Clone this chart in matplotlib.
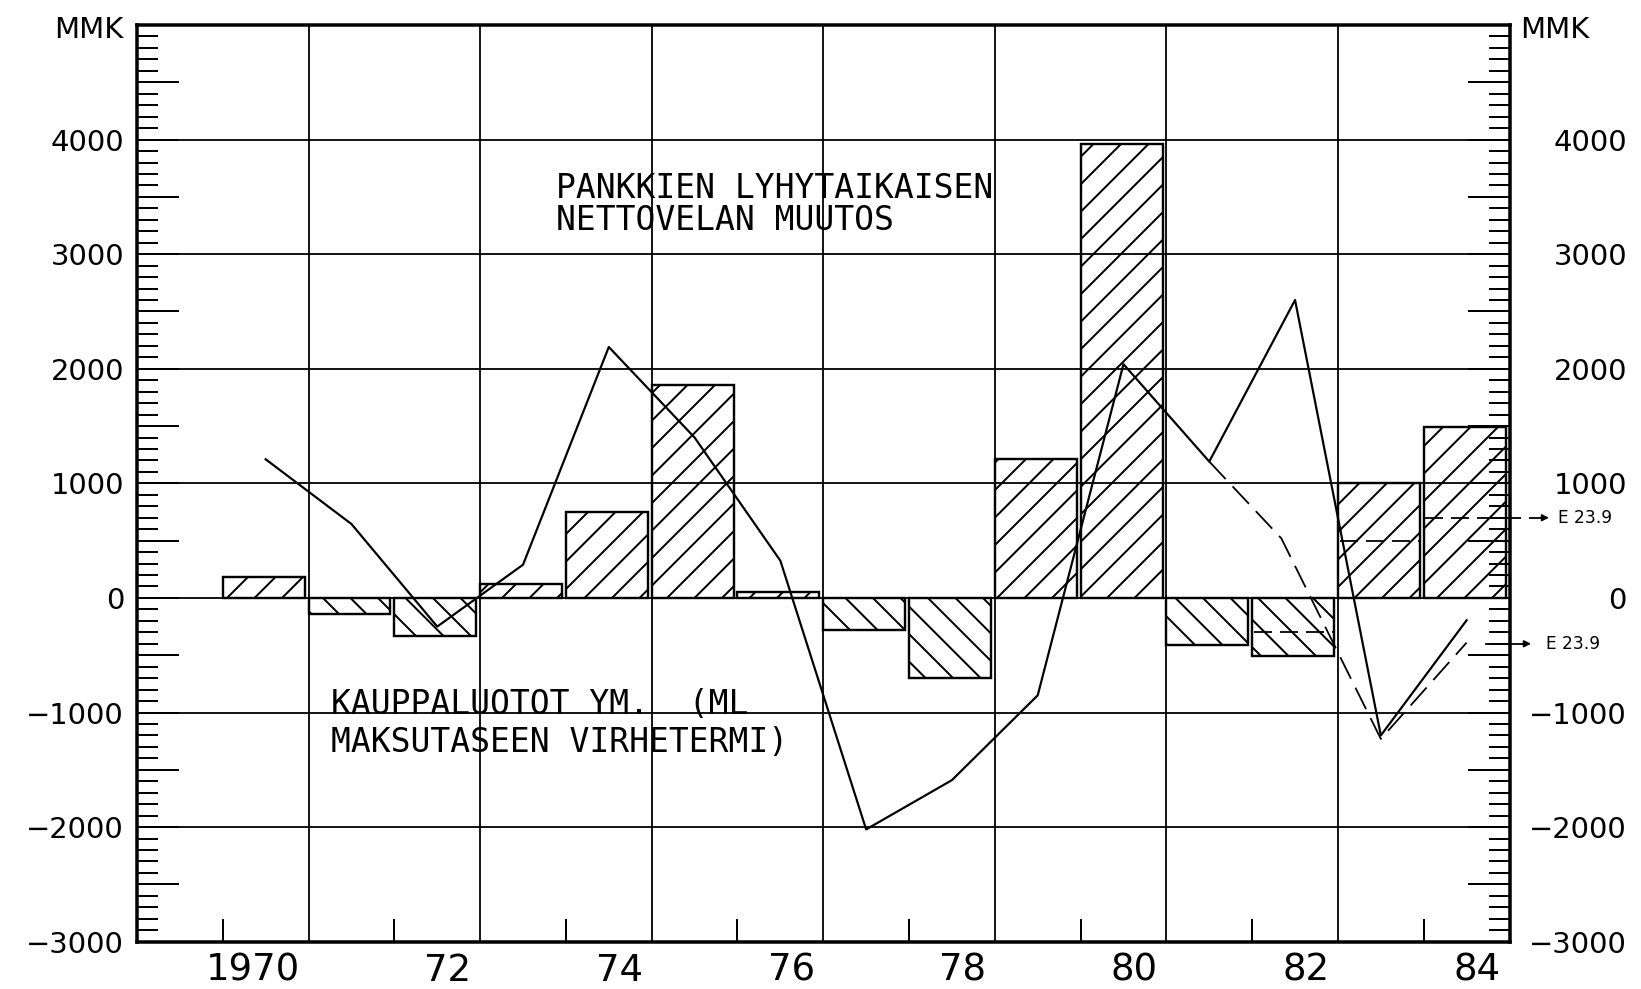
import matplotlib
matplotlib.use("Agg")
import matplotlib.pyplot as plt
from matplotlib.ticker import MultipleLocator

# ---------------- data ----------------
years = list(range(1970, 1985))
bank_net_debt_change = [185, -140, -330, 125, 750, 1860, 50, -280, -700,
                        1210, 3960, -410, -505, 1000, 1490]

trade_credit_x = [1970.5, 1971.5, 1972.5, 1973.5, 1974.5, 1975.5, 1976.5,
                  1977.5, 1978.5, 1979.5, 1980.5, 1981.5, 1982.5, 1983.5, 1984.5]
trade_credit = [1210, 645, -250, 290, 2190, 1400, 325, -2020, -1590, -850,
                2040, 1190, 2600, -1200, -195]

revised_x = [1981.5, 1982.34, 1983.5, 1984.5]
revised_values = [1190, 520, -1230, -390]

estimate_years = [1982, 1983, 1984]
estimate_values = [-300, 500, 700]
estimate_label = "E 23.9"
arrow_values = [700, -400]

y_ticks = list(range(-3000, 5001, 500))
y_tick_labels = ["−3000", "", "−2000", "", "−1000", "", "0", "", "1000", "",
                 "2000", "", "3000", "", "4000", "", ""]
x_tick_years = [1970, 1972, 1974, 1976, 1978, 1980, 1982, 1984]
x_tick_labels = ["1970", "72", "74", "76", "78", "80", "82", "84"]
grid_years = [1971, 1973, 1975, 1977, 1979, 1981, 1983]
grid_values = [-2000, -1000, 0, 1000, 2000, 3000, 4000]

# ---------------- style ----------------
DPI = 165
W, H = 1641, 989


def pt(px):
    return px * 72.0 / DPI


plt.rcParams["font.family"] = ["DejaVu Sans"]
plt.rcParams["hatch.linewidth"] = pt(2.0)
plt.rcParams["hatch.color"] = "black"
plt.rcParams["lines.scale_dashes"] = False

fig = plt.figure(figsize=(W / DPI, H / DPI), dpi=DPI)
fig.patch.set_facecolor("white")
ax = fig.add_axes([137 / W, 1 - 941.7 / H, 1372.5 / W, 916.7 / H])
ax.set_xlim(1969, 1985)
ax.set_ylim(-3000, 5000)
ax.set_facecolor("white")

# grid
for gv in grid_values:
    ax.axhline(gv, color="black", lw=pt(1.8), zorder=1)
for gy in grid_years:
    ax.axvline(gy, color="black", lw=pt(1.8), zorder=1)

# bars
bars = ax.bar(years, bank_net_debt_change, width=0.955, align="edge",
              facecolor="none", edgecolor="black", linewidth=pt(2.4), zorder=2)
for b, v in zip(bars, bank_net_debt_change):
    b.set_hatch("//" if v > 0 else "\\\\")

# lines
ax.plot(trade_credit_x, trade_credit, color="black", lw=pt(2.2), zorder=3)
ax.plot(revised_x, revised_values, color="black", lw=pt(1.8),
        ls=(0, (pt(24), pt(10))), zorder=3)

# estimate dashes inside bars
for ey, ev in zip(estimate_years, estimate_values):
    x1 = ey + 0.955 if ey != estimate_years[-1] else 1985.40
    ax.plot([ey + 0.02, x1], [ev, ev], color="black", lw=pt(1.8),
            ls=(0, (pt(18), pt(8))), zorder=3, clip_on=False)

# arrows to estimate labels
ax.annotate("", xy=(1985.46, arrow_values[0]), xytext=(1985.36, arrow_values[0]),
            arrowprops=dict(arrowstyle="-|>", color="black", lw=pt(1.6),
                            mutation_scale=pt(14), shrinkA=0, shrinkB=0),
            annotation_clip=False)
ax.plot([1984.73, 1985.18], [arrow_values[1], arrow_values[1]], color="black",
        lw=pt(1.8), clip_on=False, zorder=3)
ax.annotate("", xy=(1985.25, arrow_values[1]), xytext=(1985.15, arrow_values[1]),
            arrowprops=dict(arrowstyle="-|>", color="black", lw=pt(1.6),
                            mutation_scale=pt(14), shrinkA=0, shrinkB=0),
            annotation_clip=False)
ax.text(1985.57, arrow_values[0], estimate_label, fontsize=pt(17), va="center",
        ha="left", color="black")
ax.text(1985.43, arrow_values[1], estimate_label, fontsize=pt(17), va="center",
        ha="left", color="black")

# annotations
mono = dict(family="DejaVu Sans Mono", fontsize=pt(33), color="black",
            va="center", ha="left", zorder=4)
ax.text(1973.88, 3570, "PANKKIEN LYHYTAIKAISEN", **mono)
ax.text(1973.88, 3290, "NETTOVELAN MUUTOS", **mono)
ax.text(1971.26, -930, "KAUPPALUOTOT YM.  (ML", **mono)
ax.text(1971.26, -1260, "MAKSUTASEEN VIRHETERMI)", **mono)

# unit labels
ax.text(-0.0102, 0.9858, "MMK", transform=ax.transAxes, ha="right",
        va="baseline", fontsize=pt(29))
ax.text(1.0077, 0.9858, "MMK", transform=ax.transAxes, ha="left",
        va="baseline", fontsize=pt(29))

# spines
for s in ax.spines.values():
    s.set_linewidth(pt(3.5))

# left y axis
ax.set_yticks(y_ticks, y_tick_labels)
ax.yaxis.set_minor_locator(MultipleLocator(100))
ax.tick_params(axis="y", which="major", direction="in", length=pt(42),
               width=pt(2), pad=pt(13), labelsize=pt(29), right=False)
ax.tick_params(axis="y", which="minor", direction="in", length=pt(21),
               width=pt(2), right=False)

# x axis
ax.set_xticks(x_tick_years, [""] * len(x_tick_years))
ax.tick_params(axis="x", which="major", direction="in", length=pt(23),
               width=pt(2), top=False)
ax.set_xticks([y + 0.9 for y in x_tick_years], x_tick_labels, minor=True)
ax.tick_params(axis="x", which="minor", length=0, pad=pt(10),
               labelsize=pt(37), top=False)
for lbl in ax.get_xticklabels(minor=True):
    lbl.set_horizontalalignment("right")

# right y axis
ax2 = ax.twinx()
ax2.set_ylim(-3000, 5000)
ax2.set_yticks(y_ticks, y_tick_labels)
ax2.yaxis.set_minor_locator(MultipleLocator(100))
ax2.tick_params(axis="y", which="major", direction="in", length=pt(42),
                width=pt(2), pad=pt(117.5), labelsize=pt(29))
ax2.tick_params(axis="y", which="minor", direction="in", length=pt(21),
                width=pt(2))
for lbl in ax2.get_yticklabels():
    lbl.set_horizontalalignment("right")
for s in ax2.spines.values():
    s.set_visible(False)

fig.savefig("out.png", dpi=DPI, facecolor="white")
